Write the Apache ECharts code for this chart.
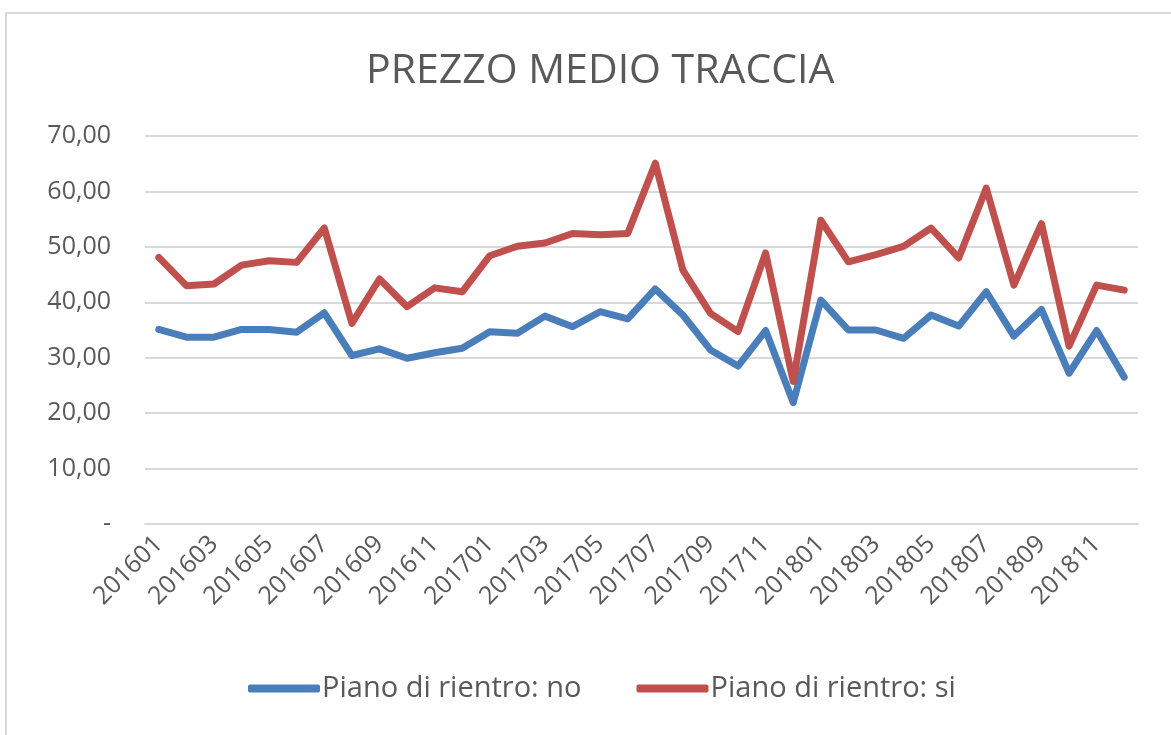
<!DOCTYPE html>
<html>
<head>
<meta charset="utf-8">
<script src="https://cdn.jsdelivr.net/npm/echarts@6/dist/echarts.min.js"></script>
<style>
  html, body { margin: 0; padding: 0; background: #fff; }
  #chart { width: 1171px; height: 735px; }
  #frame { position: absolute; left: 5px; top: 12px; width: 1180px; height: 740px; border: 2px solid #d9d9d9; box-sizing: border-box; pointer-events: none; }
</style>
</head>
<body>
<div id="chart"></div>
<div id="frame"></div>
<script>
const mesi = [
  '201601', '201602', '201603', '201604', '201605', '201606', '201607', '201608', '201609', '201610', '201611', '201612',
  '201701', '201702', '201703', '201704', '201705', '201706', '201707', '201708', '201709', '201710', '201711', '201712',
  '201801', '201802', '201803', '201804', '201805', '201806', '201807', '201808', '201809', '201810', '201811', '201812'
]

const pianoNo = [
  35.1, 33.7, 33.7, 35.1, 35.1, 34.6, 38.1, 30.4, 31.6, 29.9, 30.9, 31.7,
  34.7, 34.4, 37.5, 35.6, 38.3, 37.0, 42.4, 37.7, 31.4, 28.5, 34.9, 21.9,
  40.4, 35.0, 35.0, 33.5, 37.7, 35.7, 41.9, 33.9, 38.7, 27.2, 34.9, 26.5
]

const pianoSi = [
  48.1, 43.0, 43.3, 46.7, 47.5, 47.2, 53.4, 36.2, 44.2, 39.2, 42.6, 41.9,
  48.4, 50.1, 50.7, 52.4, 52.2, 52.4, 65.1, 45.8, 38.0, 34.7, 48.9, 25.7,
  54.8, 47.3, 48.6, 50.1, 53.4, 48.0, 60.6, 43.1, 54.2, 32.1, 43.1, 42.2
]

const testo = '#595959'
const font = 'Open Sans'

const chart = echarts.init(document.getElementById('chart'))

const fmt = (v) => (v === 0 ? '-' : v.toFixed(2).replace('.', ','))

chart.setOption({
  animation: false,
  textStyle: { fontFamily: font },
  title: {
    text: 'PREZZO MEDIO TRACCIA',
    left: 361,
    top: 46,
    textStyle: { fontFamily: font, fontSize: 41, fontWeight: 400, color: testo }
  },
  legend: {
    bottom: 27,
    left: 243,
    itemWidth: 72,
    itemHeight: 8,
    itemGap: 55,
    icon: 'roundRect',
    textStyle: { fontFamily: font, fontSize: 29, color: testo, padding: [0, 0, 0, -3] },
    data: ['Piano di rientro: no', 'Piano di rientro: si']
  },
  grid: { left: 145, right: 33, top: 136, bottom: 211 },
  xAxis: {
    type: 'category',
    data: mesi,
    boundaryGap: true,
    axisLine: { lineStyle: { color: '#d9d9d9', width: 2 } },
    axisTick: { show: false },
    axisLabel: {
      interval: 1,
      rotate: 45,
      fontSize: 25,
      color: testo,
      margin: 16
    }
  },
  yAxis: {
    type: 'value',
    min: 0,
    max: 70,
    interval: 10,
    axisLine: { show: false },
    axisTick: { show: false },
    splitLine: { lineStyle: { color: '#d9d9d9', width: 2 } },
    axisLabel: { fontSize: 25, color: testo, margin: 34, formatter: fmt }
  },
  series: [
    {
      name: 'Piano di rientro: no',
      type: 'line',
      data: pianoNo,
      symbol: 'none',
      color: '#4a7ebb',
      lineStyle: { width: 7, color: '#4a7ebb', cap: 'round', join: 'round' }
    },
    {
      name: 'Piano di rientro: si',
      type: 'line',
      data: pianoSi,
      symbol: 'none',
      color: '#c0504d',
      lineStyle: { width: 7, color: '#c0504d', cap: 'round', join: 'round' }
    }
  ]
})
</script>
</body>
</html>
